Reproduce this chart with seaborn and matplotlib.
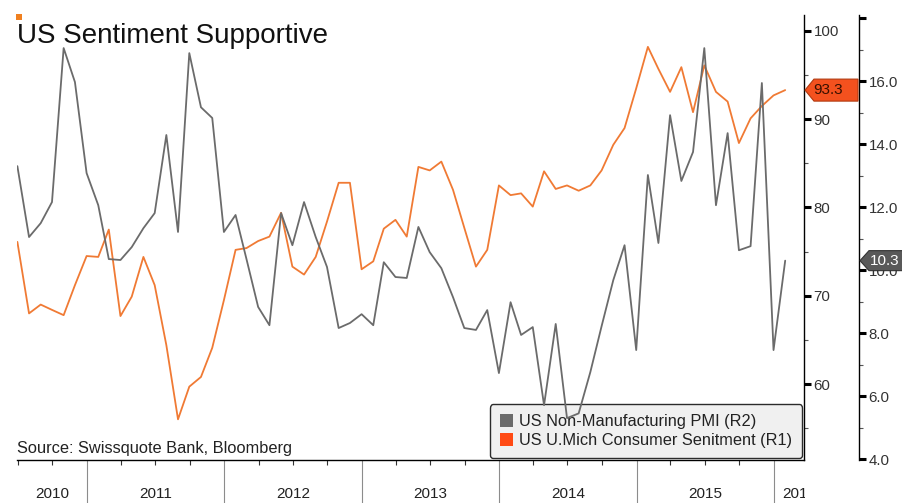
import numpy as np
import pandas as pd
import matplotlib
matplotlib.use("Agg")
import matplotlib.pyplot as plt
import matplotlib.dates as mdates
import matplotlib.ticker as mticker
from matplotlib.patches import Patch, Polygon, Rectangle
from matplotlib.transforms import Bbox, TransformedBbox, blended_transform_factory
import seaborn as sns

# ---------------- data (monthly, Jun 2010 .. Jan 2016) ----------------
first_month_end = "2010-06-30"
sentiment = [76.1, 68.0, 69.0, 68.4, 67.8, 71.2, 74.5, 74.4, 77.5, 67.7,
             69.9, 74.4, 71.2, 64.4, 56.0, 59.7, 60.8, 64.1, 69.5, 75.2,
             75.4, 76.2, 76.7, 79.4, 73.3, 72.4, 74.4, 78.4, 82.8, 82.8,
             73.0, 73.9, 77.6, 78.6, 76.7, 84.6, 84.2, 85.2, 82.0, 77.7,
             73.3, 75.2, 82.5, 81.4, 81.6, 80.1, 84.1, 82.1, 82.5, 81.9,
             82.5, 84.2, 87.1, 89.0, 93.5, 98.2, 95.7, 93.1, 95.9, 90.8,
             96.1, 93.1, 92.0, 87.3, 90.1, 91.5, 92.7, 93.3]
pmi = [13.3, 11.05, 11.49, 12.16, 17.05, 15.97, 13.08, 12.06, 10.35, 10.32,
       10.73, 11.33, 11.81, 14.29, 11.21, 16.89, 15.17, 14.83, 11.21, 11.75,
       10.35, 8.83, 8.25, 11.81, 10.79, 12.16, 11.05, 10.10, 8.16, 8.32,
       8.60, 8.25, 10.25, 9.78, 9.75, 11.37, 10.57, 10.06, 9.14, 8.16,
       8.10, 8.73, 6.73, 8.98, 7.94, 8.19, 5.71, 8.29, 5.30, 5.45,
       6.76, 8.22, 9.68, 10.79, 7.46, 13.02, 10.86, 14.92, 12.83, 13.75,
       17.05, 12.06, 14.35, 10.63, 10.76, 15.94, 7.46, 10.3]
r1_ticks = [60, 70, 80, 90, 100]
r2_ticks = [4.0, 6.0, 8.0, 10.0, 12.0, 14.0, 16.0, 18.0]
years = [2010, 2011, 2012, 2013, 2014, 2015, 2016]
title = "US Sentiment Supportive"
source = "Source: Swissquote Bank, Bloomberg"
pmi_label = "US Non-Manufacturing PMI (R2)"
sent_label = "US U.Mich Consumer Senitment (R1)"

try:
    dates = pd.date_range(first_month_end, periods=len(sentiment), freq="ME")
except Exception:
    dates = pd.date_range(first_month_end, periods=len(sentiment), freq="M")
df = pd.DataFrame({"date": dates, "sentiment": sentiment, "pmi": pmi})

# ---------------- style ----------------
sns.set_style("white")
plt.rcParams["font.family"] = ["Liberation Sans", "DejaVu Sans"]
ORANGE = "#f07a34"
GRAY = "#6b6b6b"
LEG_RED = "#ff4a14"
TXT = "#333333"

W, H = 903, 503
fig = plt.figure(figsize=(W / 100, H / 100), dpi=100)
fig.patch.set_facecolor("white")
xl, xr, yt, yb = 17, 804, 15, 460
ax = fig.add_axes([xl / W, 1 - yb / H, (xr - xl) / W, (yb - yt) / H])
ax2 = ax.twinx()

sns.lineplot(data=df, x="date", y="sentiment", ax=ax, color=ORANGE, lw=1.3)
sns.lineplot(data=df, x="date", y="pmi", ax=ax2, color=GRAY, lw=1.3)

for a in (ax, ax2):
    a.set_xlabel("")
    a.set_ylabel("")
    a.grid(False)
    for s in ("top", "left"):
        a.spines[s].set_visible(False)
ax2.spines["bottom"].set_visible(False)
ax.spines["right"].set_color("black")
ax.spines["bottom"].set_color("black")
ax2.spines["right"].set_color("black")
ax2.spines["right"].set_position(("axes", 1 + 55 / (xr - xl)))
for a in (ax, ax2):
    a.spines["right"].set_linewidth(1.0)
ax.spines["bottom"].set_linewidth(1.0)

ax.set_xlim(pd.Timestamp("2010-06-29"), pd.Timestamp("2016-03-21"))
ax.set_ylim(51.39, 101.81)
ax2.set_ylim(3.97, 18.1)

# R1 (inner right axis)
ax.yaxis.tick_right()
ax.yaxis.set_major_locator(mticker.FixedLocator(r1_ticks))
ax.yaxis.set_minor_locator(mticker.FixedLocator([55, 65, 75, 85, 95]))
ax.yaxis.set_major_formatter(mticker.FormatStrFormatter("%d"))
ax.tick_params(axis="y", which="major", direction="out", length=5, width=2.2,
               colors="black", labelcolor=TXT, labelsize=10.8, pad=2,
               right=True, left=False, labelright=True, labelleft=False)
ax.tick_params(axis="y", which="minor", direction="out", length=3, width=0.8,
               colors="#555555", right=True, left=False)

# R2 (outer right axis)
ax2.yaxis.set_major_locator(mticker.FixedLocator(r2_ticks))
ax2.yaxis.set_minor_locator(mticker.FixedLocator([5, 7, 9, 11, 13, 15, 17]))
ax2.yaxis.set_major_formatter(mticker.FuncFormatter(
    lambda v, p: "" if v > 17 else f"{v:.1f}"))
ax2.tick_params(axis="y", which="major", direction="out", length=5, width=2.2,
                colors="black", labelcolor=TXT, labelsize=10.8, pad=2)
ax2.tick_params(axis="y", which="minor", direction="out", length=3, width=0.8,
                colors="#555555")

# x axis: year separators + quarterly ticks
ax.xaxis.set_major_locator(mdates.YearLocator())
ax.xaxis.set_major_formatter(mticker.NullFormatter())
ax.xaxis.set_minor_locator(mdates.MonthLocator(bymonth=[4, 7, 10]))
ax.xaxis.set_minor_formatter(mticker.NullFormatter())
ax.tick_params(axis="x", which="major", direction="out", length=31, width=0.8,
               colors="#8c8c8c", bottom=True)
ax.tick_params(axis="x", which="minor", direction="out", length=3.5, width=0.8,
               colors="#333333", bottom=True)

x0, x1 = ax.get_xlim()
clip = TransformedBbox(Bbox.from_extents(xl / W, 0, 805 / W, 1 - yb / H), fig.transFigure)
trans = blended_transform_factory(ax.transData, ax.transAxes)
for yr in years:
    a = max(mdates.date2num(pd.Timestamp(f"{yr}-01-01")), x0)
    b = min(mdates.date2num(pd.Timestamp(f"{yr + 1}-01-01")), x1)
    c = (a + b) / 2
    if b >= x1:          # partial last year: label is cut by the axis end
        c = max(c, b - 12)
    t = ax.text(c, -(494 - yb) / (yb - yt), str(yr), transform=trans,
                ha="center", va="center", fontsize=11, color="#222222")
    t.set_clip_on(True)
    t.set_clip_box(clip)

# legend
handles = [Patch(facecolor=GRAY, edgecolor="none", label=pmi_label),
           Patch(facecolor=LEG_RED, edgecolor="none", label=sent_label)]
leg = ax.legend(handles=handles, loc="lower right", bbox_to_anchor=(1, 0),
                borderaxespad=0.12, frameon=True, fancybox=True,
                facecolor="#f0f0f0", edgecolor="#2b2b2b", framealpha=1,
                fontsize=11.8, handlelength=0.85, handleheight=0.85,
                handletextpad=0.35, borderpad=0.6, labelspacing=0.22)
leg.get_frame().set_linewidth(1.0)
for txt in leg.get_texts():
    txt.set_color("#222222")

# title, source, small square
fig.text(xl / W, 1 - 43 / H, title, fontsize=20, color="#111111", va="baseline", ha="left")
fig.text(xl / W, 1 - 453 / H, source, fontsize=11.8, color="#222222", va="baseline", ha="left")
fig.patches.append(Rectangle((16 / W, 1 - 20 / H), 6 / W, 6 / H, transform=fig.transFigure,
                             facecolor="#f08020", edgecolor="none"))


# value tags on the axes
def tag(a, value, x_tip, x_right, h, fc, ec, txt, tc, tx):
    yc = H - a.transData.transform((0, value))[1]
    pts = [(x_tip, yc), (x_tip + 9, yc - h / 2), (x_right, yc - h / 2),
           (x_right, yc + h / 2), (x_tip + 9, yc + h / 2)]
    poly = Polygon([(px / W, 1 - py / H) for px, py in pts], closed=True,
                   transform=fig.transFigure, facecolor=fc, edgecolor=ec, lw=0.8, zorder=10)
    fig.patches.append(poly)
    fig.text(tx / W, 1 - yc / H, txt, fontsize=11, color=tc, ha="left", va="center", zorder=11)


tag(ax, sentiment[-1], 805, 858, 22, "#f4511e", "#b03a10", f"{sentiment[-1]:.1f}", "#3a1000", 813)
tag(ax2, pmi[-1], 860, 906, 20, "#595959", "#333333", f"{pmi[-1]:.1f}", "white", 870)

fig.savefig("out.png", dpi=100)
